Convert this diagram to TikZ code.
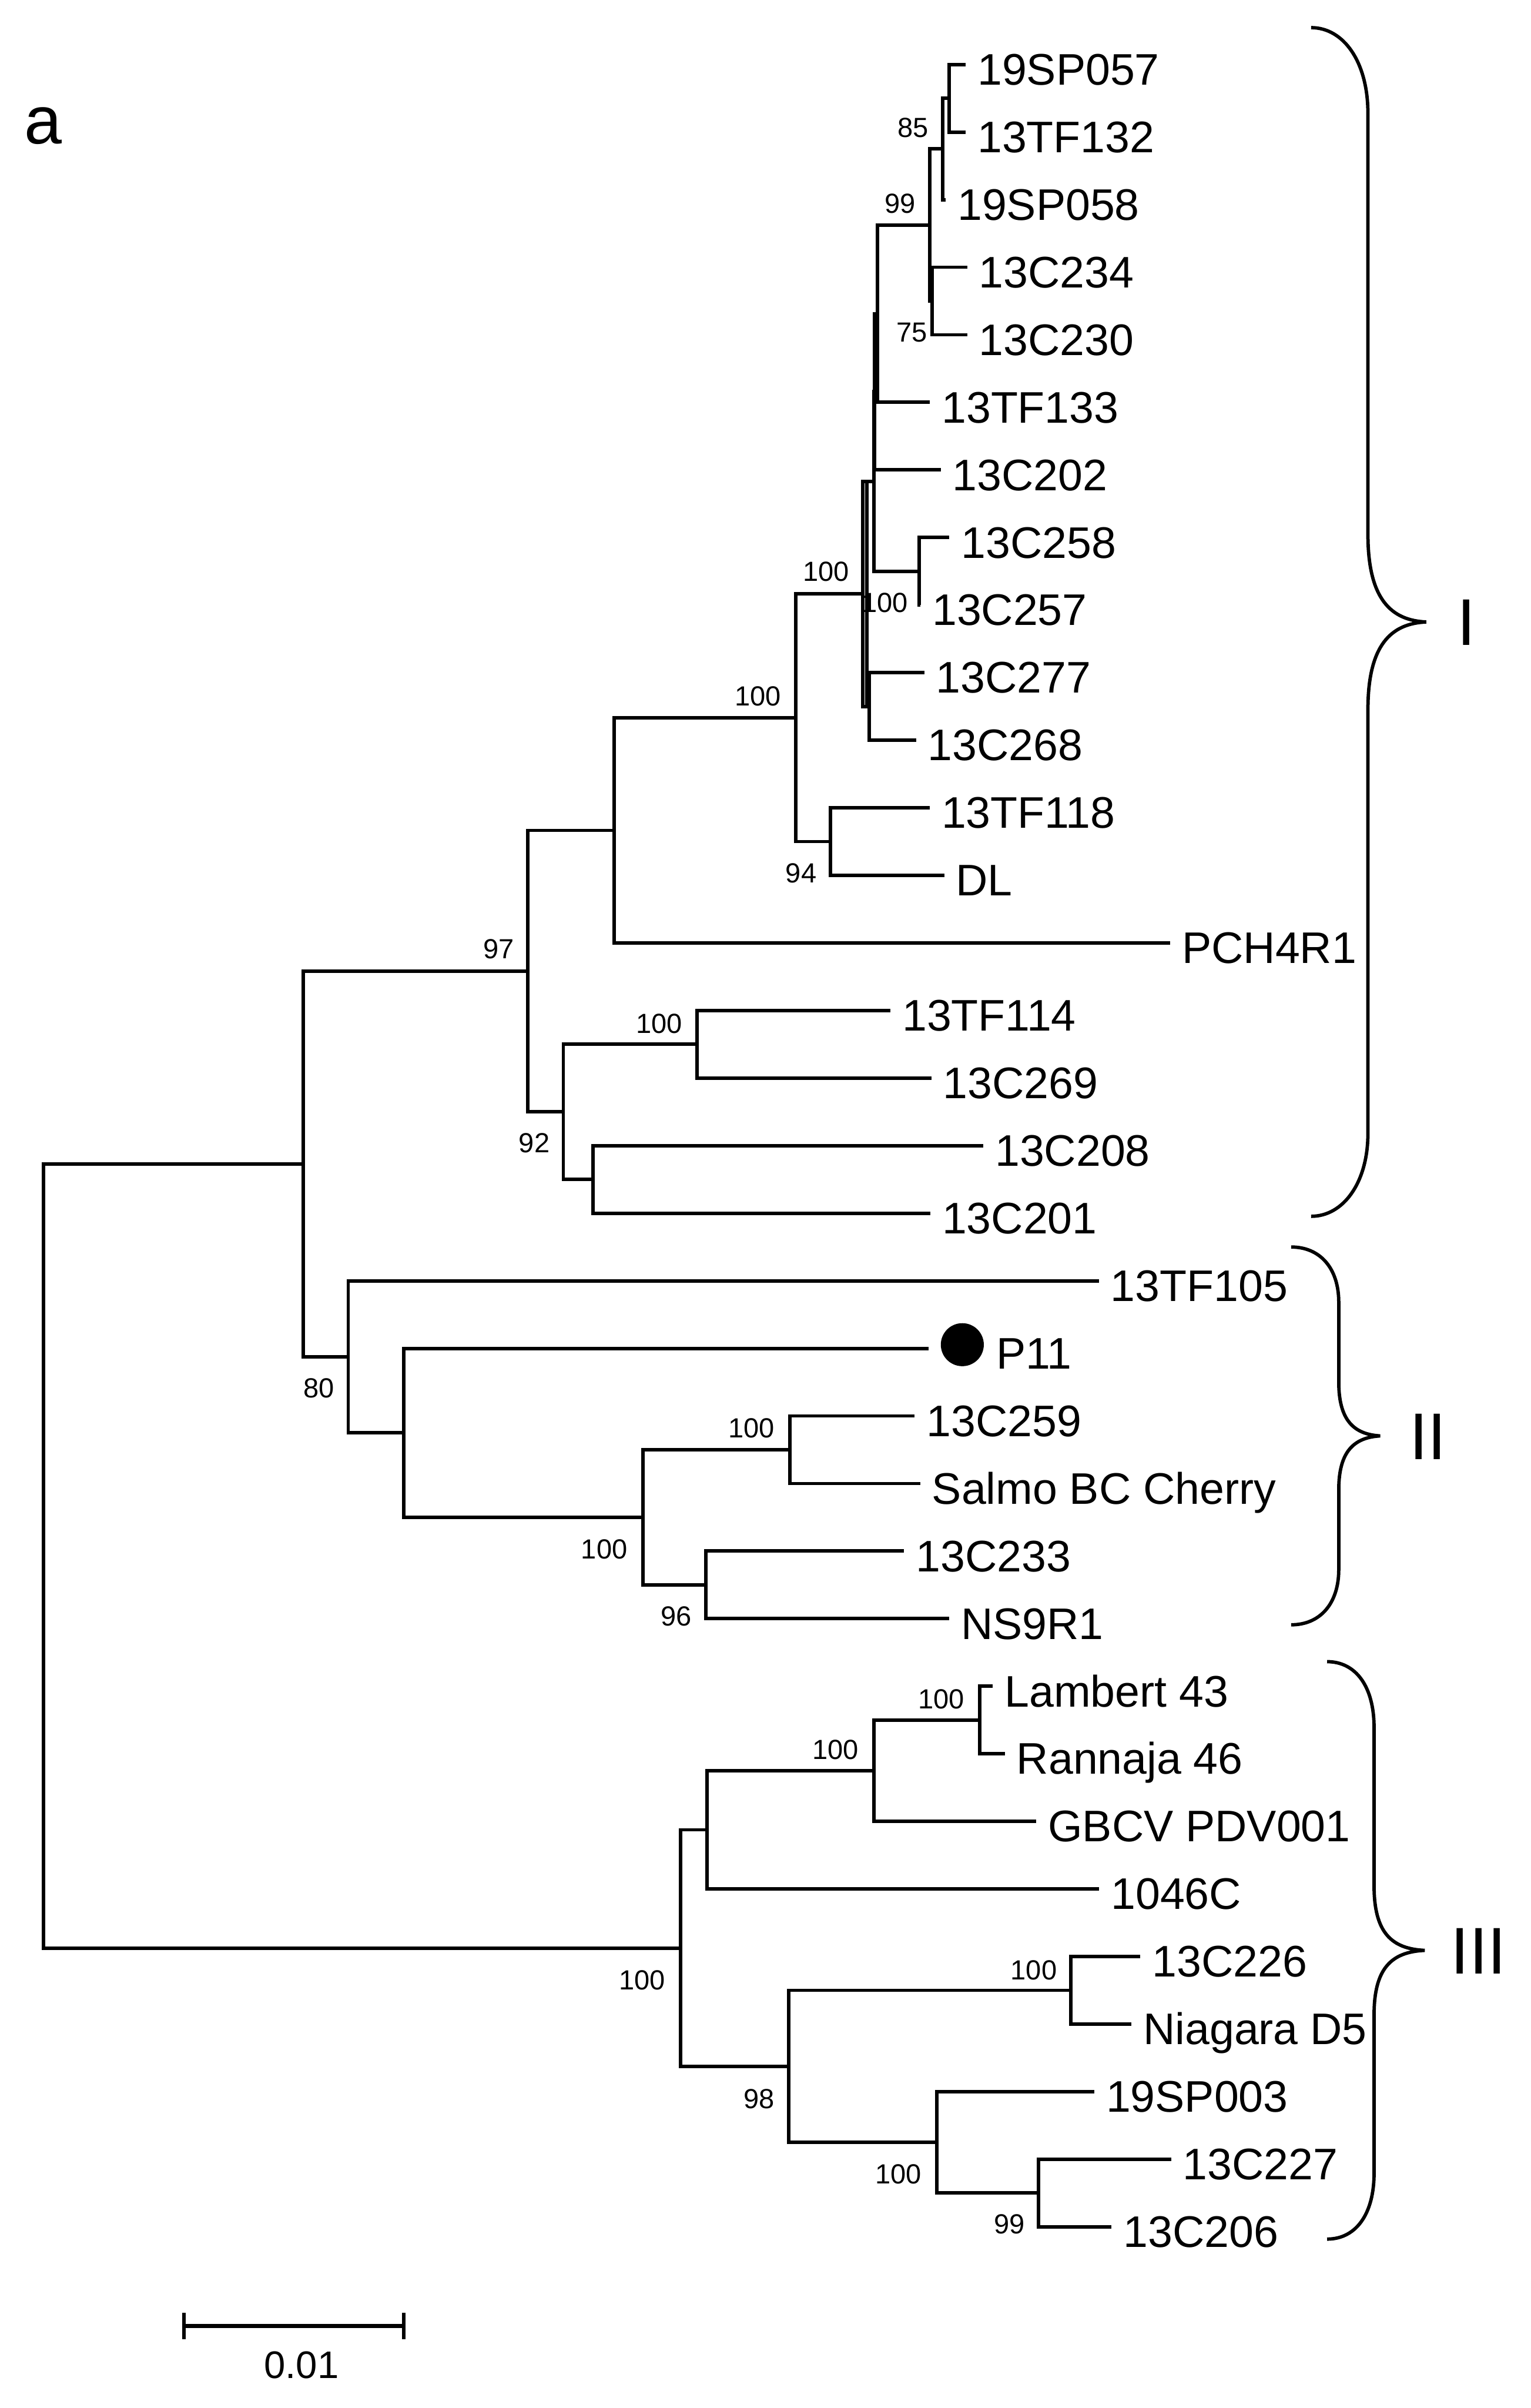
\documentclass[tikz,border=0pt]{standalone}
\usepackage{fontspec}
\setmainfont{Liberation Sans}
\begin{document}
\begin{tikzpicture}[x=1pt,y=-1pt,
  br/.style={line width=2.25pt},
  leaf/.style={anchor=west, inner xsep=7.5pt, inner ysep=0pt, text height=26.6pt, text depth=0pt, font=\fontsize{28.8}{30}\selectfont},
  boot/.style={anchor=east, inner sep=0pt, text height=12.9pt, text depth=0pt, font=\fontsize{18}{18}\selectfont},
  clade/.style={anchor=base, inner sep=0pt, font=\fontsize{43}{45}\selectfont},
  brace/.style={line width=2.2pt}]
\useasboundingbox (0,0) rectangle (997,1568);

% leaves
\node[leaf] (L0) at (629,42) {19SP057};
\node[leaf] (L1) at (629,86) {13TF132};
\node[leaf] (L2) at (616,130) {19SP058};
\node[leaf] (L3) at (630,174) {13C234};
\node[leaf] (L4) at (630,218) {13C230};
\node[leaf] (L5) at (605.7,262) {13TF133};
\node[leaf] (L6) at (612.7,306) {13C202};
\node[leaf] (L7) at (618.4,350) {13C258};
\node[leaf] (L8) at (599.5,394) {13C257};
\node[leaf] (L9) at (602,438) {13C277};
\node[leaf] (L10) at (596.7,482) {13C268};
\node[leaf] (L11) at (605.6,526) {13TF118};
\node[leaf] (L12) at (615,570) {DL};
\node[leaf] (L13) at (762.2,614) {PCH4R1};
\node[leaf] (L14) at (580,658) {13TF114};
\node[leaf] (L15) at (606.7,702) {13C269};
\node[leaf] (L16) at (640.5,746) {13C208};
\node[leaf] (L17) at (606,790) {13C201};
\node[leaf] (L18) at (715.8,834) {13TF105};
\node[leaf, inner xsep=43.7pt] (L19) at (605,878) {P11};
\node[leaf] (L20) at (595.8,922) {13C259};
\node[leaf] (L21) at (599.4,966) {Salmo BC Cherry};
\node[leaf] (L22) at (588.9,1010) {13C233};
\node[leaf] (L23) at (618.3,1054) {NS9R1};
\node[leaf] (L24) at (646.7,1098) {Lambert 43};
\node[leaf] (L25) at (654.5,1142) {Rannaja 46};
\node[leaf] (L26) at (675,1186) {GBCV PDV001};
\node[leaf] (L27) at (716,1230) {1046C};
\node[leaf] (L28) at (742.8,1274) {13C226};
\node[leaf] (L29) at (737,1318) {Niagara D5};
\node[leaf] (L30) at (712.8,1362) {19SP003};
\node[leaf] (L31) at (762.8,1406) {13C227};
\node[leaf] (L32) at (724,1450) {13C206};

\node[circle, fill=black, inner sep=0pt, minimum size=28pt] (dot) at (626.8,875.6) {};

% internal nodes
\coordinate (n85) at (618.4,64);
\coordinate (nA) at (614,97);
\coordinate (n75) at (607.3,196);
\coordinate (n99) at (605.7,146.5);
\coordinate (nH) at (571.4,204.25);
\coordinate (nH2) at (569.6,255.1);
\coordinate (n258) at (598.8,372);
\coordinate (nC) at (569.4,313.6);
\coordinate (nJ) at (566.3,460);
\coordinate (nB) at (562.1,386.8);
\coordinate (nBt) at (564.6,313.6);
\coordinate (nBb) at (564.6,460);
\coordinate (n94) at (541,548);
\coordinate (nE) at (518.4,467.4);
\coordinate (nF) at (400,540.7);
\coordinate (n100a) at (454,680);
\coordinate (nD2) at (386.2,768);
\coordinate (n92) at (366.9,724);
\coordinate (n97) at (343.6,632.35);
\coordinate (n100c) at (514.5,944);
\coordinate (n96) at (459.8,1032);
\coordinate (n100b) at (418.7,988);
\coordinate (nN3) at (263,933);
\coordinate (nN2) at (226.8,883.5);
\coordinate (nN1) at (197.5,757.9);
\coordinate (n100e) at (638,1120);
\coordinate (n100d) at (569.2,1153);
\coordinate (nG) at (460.4,1191.5);
\coordinate (n100f) at (697.6,1296);
\coordinate (n99b) at (676.3,1428);
\coordinate (n100g) at (610.2,1395);
\coordinate (n98) at (513.7,1345.5);
\coordinate (nIII) at (443.4,1268.5);
\coordinate (root) at (28.4,1013.2);

% branches
\draw[br] (n85) |- (L0.west);  \draw[br] (n85) |- (L1.west);
\draw[br] (nA) |- (n85);       \draw[br] (nA) |- (L2.west);
\draw[br] (n75) |- (L3.west);  \draw[br] (n75) |- (L4.west);
\draw[br] (n99) |- (nA);       \draw[br] (n99) |- (n75);
\draw[br] (nH) |- (n99);       \draw[br] (nH) |- (L5.west);
\draw[br] (nH2) |- (nH);       \draw[br] (nH2) |- (L6.west);
\draw[br] (n258) |- (L7.west); \draw[br] (n258) |- (L8.west);
\draw[br] (nC) |- (nH2);       \draw[br] (nC) |- (n258);
\draw[br] (nJ) |- (L9.west);   \draw[br] (nJ) |- (L10.west);
\draw[br] (nB) |- (nC);        \draw[br] (nB) |- (nJ);
\draw[br] (nBt) -- (nBb);
\draw[br] (n94) |- (L11.west); \draw[br] (n94) |- (L12.west);
\draw[br] (nE) |- (nB);        \draw[br] (nE) |- (n94);
\draw[br] (nF) |- (nE);        \draw[br] (nF) |- (L13.west);
\draw[br] (n100a) |- (L14.west); \draw[br] (n100a) |- (L15.west);
\draw[br] (nD2) |- (L16.west); \draw[br] (nD2) |- (L17.west);
\draw[br] (n92) |- (n100a);    \draw[br] (n92) |- (nD2);
\draw[br] (n97) |- (nF);       \draw[br] (n97) |- (n92);
\draw[br] (n100c) |- (L20.west); \draw[br] (n100c) |- (L21.west);
\draw[br] (n96) |- (L22.west); \draw[br] (n96) |- (L23.west);
\draw[br] (n100b) |- (n100c);  \draw[br] (n100b) |- (n96);
\draw[br] (nN3) |- (L19.west); \draw[br] (nN3) |- (n100b);
\draw[br] (nN2) |- (L18.west); \draw[br] (nN2) |- (nN3);
\draw[br] (nN1) |- (n97);      \draw[br] (nN1) |- (nN2);
\draw[br] (n100e) |- (L24.west); \draw[br] (n100e) |- (L25.west);
\draw[br] (n100d) |- (n100e);  \draw[br] (n100d) |- (L26.west);
\draw[br] (nG) |- (n100d);     \draw[br] (nG) |- (L27.west);
\draw[br] (n100f) |- (L28.west); \draw[br] (n100f) |- (L29.west);
\draw[br] (n99b) |- (L31.west); \draw[br] (n99b) |- (L32.west);
\draw[br] (n100g) |- (L30.west); \draw[br] (n100g) |- (n99b);
\draw[br] (n98) |- (n100f);    \draw[br] (n98) |- (n100g);
\draw[br] (nIII) |- (nG);      \draw[br] (nIII) |- (n98);
\draw[br] (root) |- (nN1);     \draw[br] (root) |- (nIII);

% bootstrap values
\node[boot] (b85) at (605,83) {85};
\node[boot] (b99) at (596.6,132.5) {99};
\node[boot] (b75) at (604.2,216) {75};
\node[boot] (bB) at (553.4,372) {100};
\node[boot] (b258) at (591.5,392.3) {100};
\node[boot] (bE) at (509,453) {100};
\node[boot] (b94) at (532,568.3) {94};
\node[boot] (b97) at (334.9,617.9) {97};
\node[boot] (b100a) at (444.6,666.4) {100};
\node[boot] (b92) at (358.2,744) {92};
\node[boot] (b80) at (217.8,903.6) {80};
\node[boot] (b100c) at (504.8,929.8) {100};
\node[boot] (b100b) at (408.8,1008.6) {100};
\node[boot] (b96) at (450.6,1052.2) {96};
\node[boot] (b100e) at (628.3,1106) {100};
\node[boot] (b100d) at (559.5,1139.2) {100};
\node[boot] (bIIIr) at (433.6,1289.3) {100};
\node[boot] (b100f) at (688.6,1282.7) {100};
\node[boot] (b98) at (504.7,1366.4) {98};
\node[boot] (b100g) at (600.5,1415.5) {100};
\node[boot] (b99b) at (667.6,1448.2) {99};

% clade braces
\draw[brace] (854,18) .. controls (875,18) and (891,40) .. (891,74) -- (891,348)
  .. controls (891,390) and (906,404) .. (929,405)
  .. controls (906,406) and (891,420) .. (891,462) -- (891,738)
  .. controls (891,770) and (875,792) .. (854,792);
\draw[brace] (841,812) .. controls (860,812) and (872,826) .. (872,848) -- (872,900)
  .. controls (872,925) and (882,934) .. (899,935)
  .. controls (882,936) and (872,945) .. (872,970) -- (872,1022)
  .. controls (872,1044) and (860,1058) .. (841,1058);
\draw[brace] (864.4,1082) .. controls (883,1082) and (895,1098) .. (895,1125) -- (895,1228)
  .. controls (895,1258) and (906,1269) .. (928,1270)
  .. controls (906,1271) and (895,1282) .. (895,1312) -- (895,1415)
  .. controls (895,1442) and (883,1458) .. (864.4,1458);
\node[clade] (cI) at (955,420.2) {I};
\node[clade] (cII) at (930,950.4) {II};
\node[clade] (cIII) at (963,1285.4) {III};

% panel letter
\node[anchor=base, inner sep=0pt, font=\fontsize{44}{46}\selectfont] (panel) at (28.3,93.5) {a};

% scale bar
\coordinate (s1) at (119.8,1514.7);
\coordinate (s2) at (263,1514.7);
\coordinate (s1t) at (119.8,1506);
\coordinate (s1b) at (119.8,1523);
\coordinate (s2t) at (263,1506);
\coordinate (s2b) at (263,1523);
\draw[line width=2.7pt] (s1) -- (s2);
\draw[line width=2.4pt] (s1t) -- (s1b);
\draw[line width=2.4pt] (s2t) -- (s2b);
\node[anchor=base, inner sep=0pt, font=\fontsize{25}{26}\selectfont] (sbl) at (196.3,1548.6) {0.01};
\end{tikzpicture}
\end{document}
